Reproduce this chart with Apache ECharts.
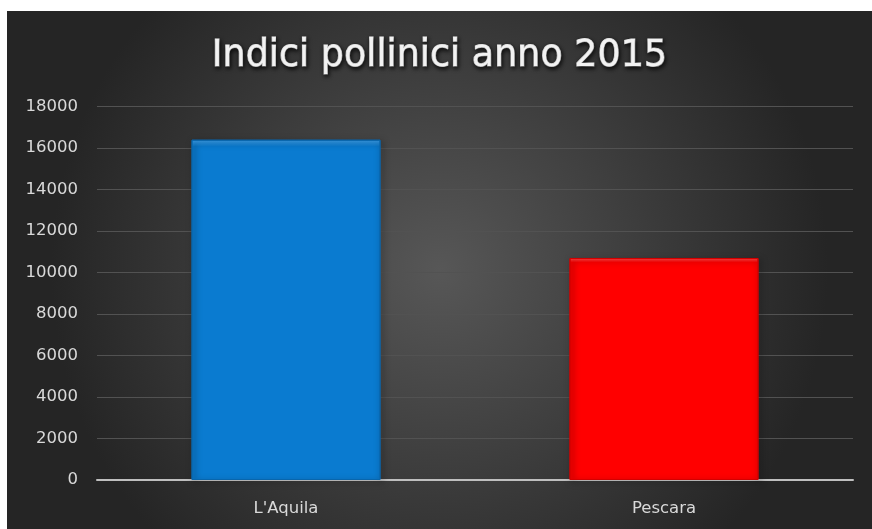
<!DOCTYPE html>
<html>
<head>
<meta charset="utf-8">
<script src="https://cdn.jsdelivr.net/npm/echarts@6/dist/echarts.min.js"></script>
<style>
html,body{margin:0;padding:0;background:#fff;width:872px;height:529px;overflow:hidden;}
#c{position:absolute;left:7px;top:11px;width:865px;height:518px;}
</style>
</head>
<body>
<div id="c"></div>
<script>
const titleText = "Indici pollinici anno 2015";
const categories = ["L'Aquila", "Pescara"];
const values = [16400, 10700];
const barColors = ["#0a7bd0", "#ff0000"];
const barTopColors = ["#3ea3f0", "#ff4a4a"];
const barEdgeColors = ["#0866ad", "#d40000"];
const yMin = 0, yMax = 18000, yStep = 2000;

const chart = echarts.init(document.getElementById('c'));
chart.setOption({
  backgroundColor: {
    type: 'radial', x: 0.5, y: 0.5, r: 0.75,
    colorStops: [{offset: 0, color: '#575757'}, {offset: 1, color: '#252525'}]
  },
  title: {
    text: titleText, left: 'center', top: 22,
    textStyle: {
      color: '#f2f2f2', fontFamily: 'DejaVu Sans', fontWeight: 'normal', fontSize: 36.5,
      textBorderColor: '#f2f2f2', textBorderWidth: 1,
      textShadowColor: 'rgba(0,0,0,0.85)', textShadowBlur: 4, textShadowOffsetX: 1, textShadowOffsetY: 2
    }
  },
  grid: {left: 90, right: 19, top: 95.5, bottom: 49},
  xAxis: {
    type: 'category', data: categories,
    axisLine: {lineStyle: {color: '#bfbfbf', width: 2}},
    axisTick: {show: false},
    axisLabel: {color: '#d9d9d9', fontFamily: 'DejaVu Sans', fontSize: 16.5, margin: 20}
  },
  yAxis: {
    type: 'value', min: yMin, max: yMax, interval: yStep,
    axisLine: {show: false}, axisTick: {show: false},
    splitLine: {lineStyle: {color: '#525252', width: 1}},
    axisLabel: {color: '#d9d9d9', fontFamily: 'DejaVu Sans', fontSize: 16.5, margin: 19,
      formatter: v => String(v)}
  },
  series: [{
    type: 'bar', barWidth: '50%',
    data: values.map((v, i) => ({
      value: v,
      itemStyle: {
        color: {
          type: 'linear', x: 0, y: 0, x2: 0, y2: 1,
          colorStops: [
            {offset: 0, color: barTopColors[i]},
            {offset: 0.02, color: barColors[i]},
            {offset: 1, color: barColors[i]}
          ]
        },
        borderColor: barEdgeColors[i], borderWidth: 1,
        shadowColor: 'rgba(0,0,0,0.6)', shadowBlur: 6, shadowOffsetX: 2, shadowOffsetY: 2
      }
    }))
  }]
});
</script>
</body>
</html>
